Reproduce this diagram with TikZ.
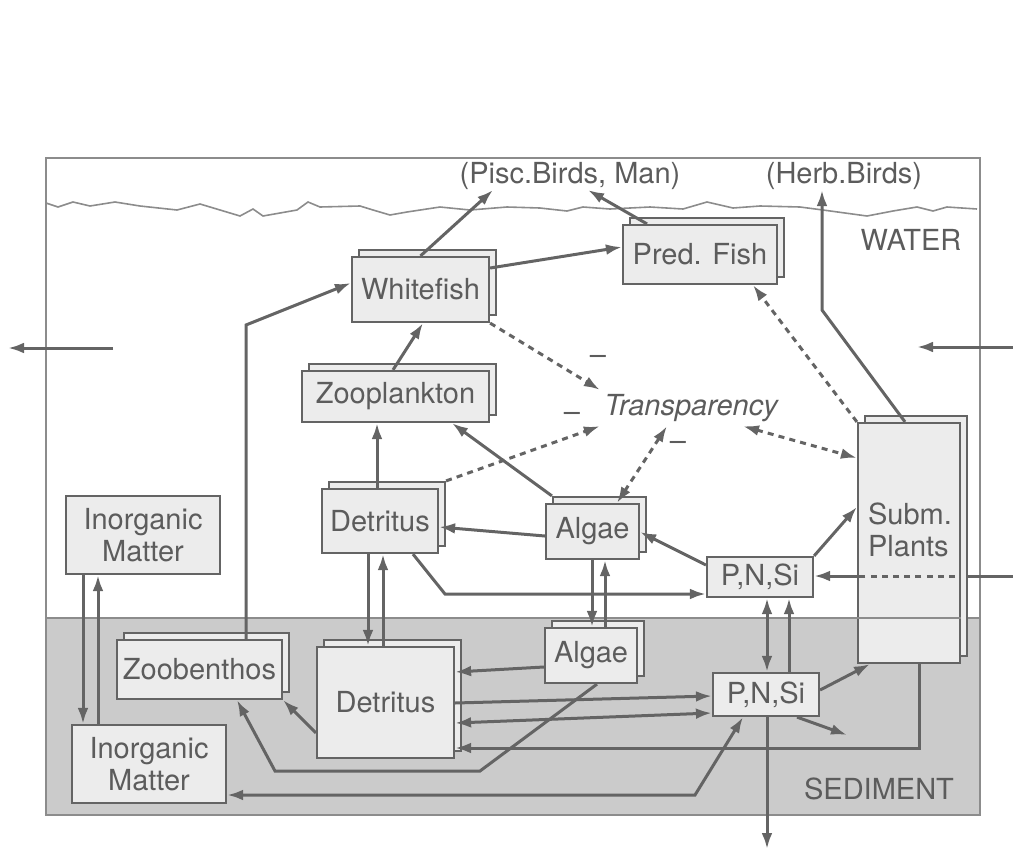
\documentclass[tikz,border=0pt]{standalone}
\usepackage{fontspec}
\setmainfont{TeX Gyre Heros}
\usetikzlibrary{arrows.meta,shadows}
\definecolor{linec}{RGB}{100,100,100}
\definecolor{textc}{RGB}{92,92,92}
\definecolor{boxc}{RGB}{236,236,236}
\definecolor{sedc}{RGB}{203,203,203}
\definecolor{framec}{RGB}{140,140,140}

\begin{document}
\begin{tikzpicture}[x=0.5pt,y=-0.5pt,
  >={Latex[length=8pt,width=5.4pt]},
  box/.style={draw=linec, fill=boxc, line width=1.1pt, inner sep=0pt, text=textc,
    font=\fontsize{14.5}{16}\selectfont, align=center},
  shd/.style={copy shadow={shadow xshift=3.5pt, shadow yshift=3.5pt, fill=boxc, draw=linec, line width=1.1pt}},
  txt/.style={text=textc, font=\fontsize{14.5}{16}\selectfont, inner sep=0pt},
  arr/.style={->, draw=linec, line width=1.5pt},
  dotline/.style={draw=linec, line width=1.5pt, dash pattern=on 3pt off 2.6pt},
  frame/.style={draw=framec, line width=0.8pt}]
\useasboundingbox (0,0) rectangle (1013,852);

% water and sediment
\fill[sedc] (46,618) rectangle (980,815);
\draw[frame] (46,158) rectangle (980,815);
\draw[frame] (46,618) -- (980,618);
\draw[frame] plot[sharp plot] coordinates {(46,203) (58,207) (73,202) (90,206) (115,202) (140,206)
  (177,210) (200,204) (240,216) (253,209) (263,216) (297,210) (308,202) (320,207) (360,206)
  (373,210) (390,215) (407,212) (440,207) (470,210) (507,207) (540,208) (567,211) (583,207)
  (610,209) (650,207) (683,209) (707,202) (733,208) (760,206) (800,207) (823,210) (867,216)
  (893,211) (917,207) (933,211) (947,207) (977,209)};

\node[txt] (pisc) at (570,176) {(Pisc.Birds, Man)};
\node[txt] (herb) at (844,176) {(Herb.Birds)};
\node[txt] (water) at (911,240) {WATER};
\node[txt] (sed) at (879,789) {SEDIMENT};
\node[txt, inner sep=2pt, font=\fontsize{14.5}{16}\selectfont\itshape] (tr) at (691,408) {Transparency};
\node[txt] (m1) at (598,360) {–};
\node[txt] (m2) at (572,417) {–};
\node[txt] (m3) at (678,446) {–};

% compartments
\node[box,shd, minimum width=68.5pt, minimum height=32.5pt] (wf) at (420.5,289.5) {Whitefish};
\node[box,shd, minimum width=93.5pt, minimum height=25.5pt] (zoo) at (395.5,396.5) {Zooplankton};
\node[box,shd, minimum width=77pt, minimum height=29.5pt] (pf) at (700,254.5) {Pred. Fish};
\node[box,shd, minimum width=58pt, minimum height=32pt] (detu) at (380,521) {Detritus};
\node[box,shd, minimum width=46.5pt, minimum height=27.5pt] (algu) at (592.5,531.5) {Algae};
\node[box, minimum width=53pt, minimum height=20pt] (pnsu) at (760,577) {P,N,Si};
\node[box, minimum width=53pt, minimum height=21.5pt] (pnsl) at (766,694.5) {P,N,Si};
\node[box,shd, minimum width=46pt, minimum height=27.5pt] (algl) at (591,655.5) {Algae};
\node[box,shd, minimum width=68.5pt, minimum height=55.5pt] (detl) at (385.5,702.5) {Detritus};
\node[box,shd, minimum width=82.5pt, minimum height=29.5pt] (zb) at (199.5,669.5) {Zoobenthos};
\node[box, minimum width=77pt, minimum height=39pt] (imu) at (143,535) {Inorganic\\Matter};
\node[box, minimum width=77pt, minimum height=39pt] (iml) at (149,764) {Inorganic\\Matter};
\node[box,shd, minimum width=51pt, minimum height=120pt] (sp) at (909,543) {};
\node[txt, align=left] (sptxt) at (910,530) {Subm.\\Plants};
\draw[frame] (sp.west |- 0,618) -- (sp.east |- 0,618);

\coordinate (outL) at (8,348);
\coordinate (inL) at (113,348);
\coordinate (inR) at (1013,347);
\coordinate (inR2) at (1013,576);
\coordinate (outS) at (847,735);
\coordinate (outB) at (767,849);

% flows
\draw[arr] (inL) -- (outL);
\draw[arr] (inR) -- (917,347);
\draw[arr] (wf.north) -- (pisc.south -| 493,0);
\draw[arr] (pf.north -| 647,0) -- (pisc.south -| 588,0);
\draw[arr] (sp.north -| 905,0) -- (822,310) -- (herb.south -| 822,0);
\draw[arr] (wf.east |- 0,268) -- (pf.west |- 0,247);
\draw[arr] (zb.north -| 246,0) -- (246,325) -- (wf.west |- 0,283);
\draw[arr] (zoo.north -| 393,0) -- (wf.south -| 423,0);
\draw[arr] (detu.north -| 377,0) -- (zoo.south -| 377,0);
\draw[arr] ([xshift=3.5pt,yshift=3.5pt]algu.north west) -- (zoo.south -| 452,0);
\draw[arr] (algu.west |- 0,536) -- (detu.east |- 0,527);
\draw[arr] (pnsu.west |- 0,565) -- (algu.east |- 0,532);
\draw[arr] (detu.south -| 413,0) -- (445,594) -- (pnsu.west |- 0,594);
\draw[arr] (pnsu.north east) -- (sp.west |- 0,507);
\draw[draw=linec, line width=1.5pt] (inR2) -- (968,576);
\draw[dotline] (955,576) -- (sp.west |- 0,576);
\draw[arr] (sp.west |- 0,576) -- (pnsu.east |- 0,576);
\draw[arr] (algu.south -| 592,0) -- (algl.north -| 592,0);
\draw[arr] (algl.north -| 605,0) -- (algu.south -| 605,0);
\draw[arr,<->] (pnsu.south -| 767,0) -- (pnsl.north -| 767,0);
\draw[arr] (pnsl.north -| 789,0) -- (pnsu.south -| 789,0);
\draw[arr] (pnsl.east |- 0,690) -- (sp.south -| 870,0);
\draw[arr] (pnsl.south -| 797,0) -- (outS);
\draw[arr] (pnsl.south -| 767,0) -- (outB);
\draw[arr] (sp.south -| 919,0) -- (919,748) -- (detl.east |- 0,748);
\draw[arr] (algl.west |- 0,667) -- (detl.east |- 0,672);
\draw[arr] (detl.east |- 0,703) -- (pnsl.west |- 0,696);
\draw[arr,<->] (detl.east |- 0,723) -- (pnsl.west |- 0,713);
\draw[arr] (detu.south -| 368,0) -- (detl.north -| 368,0);
\draw[arr] (detl.north -| 383,0) -- (detu.south -| 383,0);
\draw[arr] (detl.west |- 0,733) -- (zb.south east);
\draw[arr] (algl.south -| 597,0) -- (480,771) -- (275,771) -- (zb.south -| 237,0);
\draw[arr,<->] (iml.east |- 0,795) -- (695,795) -- (pnsl.south -| 743,0);
\draw[arr] (imu.south -| 83,0) -- (iml.north -| 83,0);
\draw[arr] (iml.north -| 98,0) -- (imu.south -| 98,0);

% effects on transparency
\draw[dotline,->] (wf.south east) -- (tr.north west);
\draw[dotline,->] ([xshift=3.5pt,yshift=3.5pt]detu.north east) -- (tr.south west);
\draw[dotline,<->] (algu.north -| 617,0) -- (tr.south -| 667,0);
\draw[dotline,<->] (tr.south -| 743,0) -- (sp.west |- 0,458);
\draw[dotline,->] (sp.north west) -- (pf.south -| 753,0);
\end{tikzpicture}
\end{document}
